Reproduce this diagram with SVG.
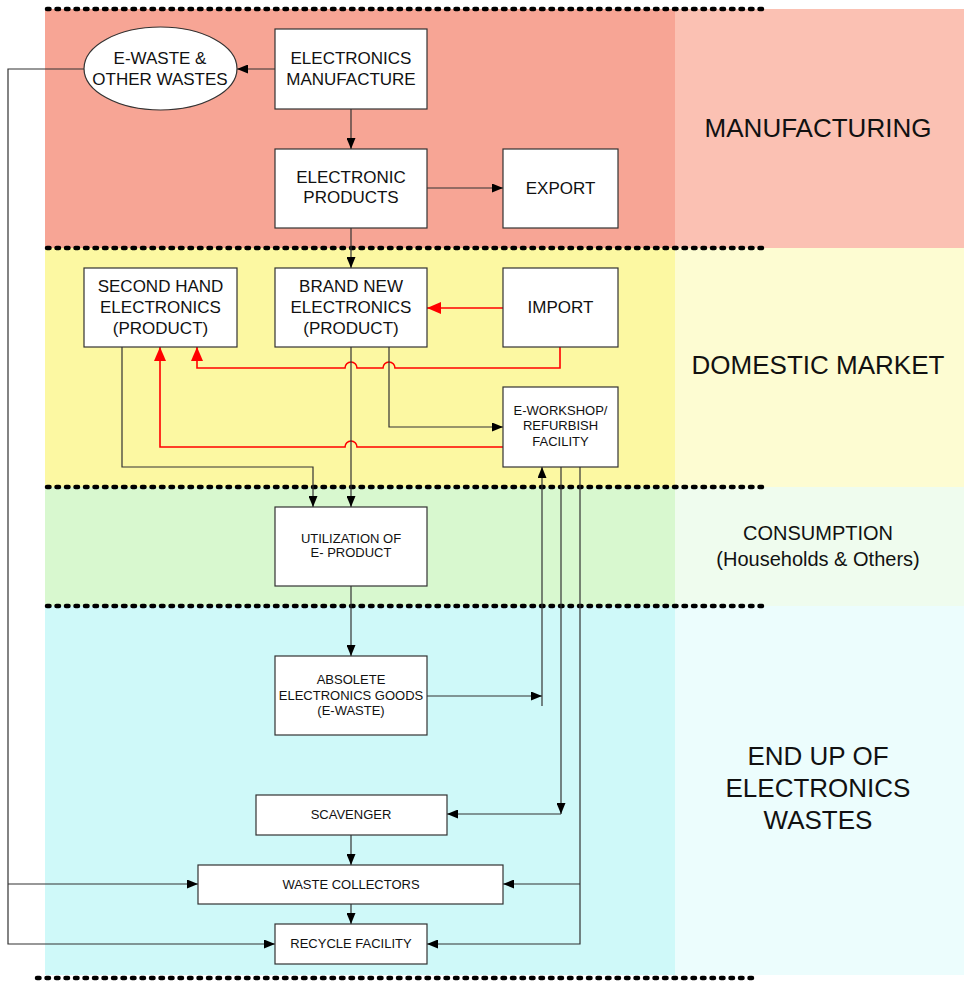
<svg xmlns="http://www.w3.org/2000/svg" width="964" height="983" viewBox="0 0 964 983">
<style>
text{font-family:"Liberation Sans",Arial,sans-serif;fill:#111;text-anchor:middle}
.box{fill:#fff;stroke:#333;stroke-width:1.2}
.t17{font-size:17px}
.t13{font-size:13px}
.lab{font-size:26px}
.lab2{font-size:20px}
.c{fill:none;stroke:#333;stroke-width:1.2}
.r{fill:none;stroke:#f00;stroke-width:1.6}
.dot{stroke:#000;stroke-width:4.5;stroke-linecap:round;stroke-dasharray:2.5 7}
</style>
<defs>
<marker id="a" markerWidth="11" markerHeight="9" refX="11" refY="4.5" orient="auto" markerUnits="userSpaceOnUse"><path d="M0,0 L11,4.5 L0,9z" fill="#000"/></marker>
<marker id="ar" markerWidth="14" markerHeight="12" refX="14" refY="6" orient="auto" markerUnits="userSpaceOnUse"><path d="M0,0 L14,6 L0,12z" fill="#f00"/></marker>
</defs>
<g id="bands">
<rect x="45" y="9" width="630" height="239" fill="#f7a595"/>
<rect x="675" y="9" width="289" height="239" fill="#fbc1b3"/>
<rect x="45" y="248" width="630" height="239" fill="#fcf8a2"/>
<rect x="675" y="248" width="289" height="239" fill="#fdfcd2"/>
<rect x="45" y="487" width="630" height="119" fill="#d8f8cf"/>
<rect x="675" y="487" width="289" height="119" fill="#effcee"/>
<rect x="45" y="606" width="630" height="369" fill="#cff9f9"/>
<rect x="675" y="606" width="289" height="369" fill="#ecfdfd"/>
<line class="dot" x1="47" y1="9" x2="766" y2="9"/>
<line class="dot" x1="47" y1="248" x2="766" y2="248"/>
<line class="dot" x1="47" y1="487" x2="766" y2="487"/>
<line class="dot" x1="47" y1="606" x2="766" y2="606"/>
<line class="dot" x1="37" y1="978" x2="756" y2="978"/>
<text class="lab" x="818" y="137">MANUFACTURING</text>
<text class="lab" x="818" y="374">DOMESTIC MARKET</text>
<text class="lab2" x="818" y="540">CONSUMPTION</text>
<text class="lab2" x="818" y="566">(Households &amp; Others)</text>
<text class="lab" x="818" y="765">END UP OF</text>
<text class="lab" x="818" y="797">ELECTRONICS</text>
<text class="lab" x="818" y="829">WASTES</text>
</g>
<g id="connectors">
<line class="c" x1="275" y1="69" x2="237" y2="69" marker-end="url(#a)"/>
<polyline class="c" points="84,69 8,69 8,944 275,944" marker-end="url(#a)"/>
<line class="c" x1="8" y1="884" x2="198" y2="884" marker-end="url(#a)"/>
<line class="c" x1="351" y1="109" x2="351" y2="149" marker-end="url(#a)"/>
<line class="c" x1="427" y1="188" x2="503" y2="188" marker-end="url(#a)"/>
<line class="c" x1="351" y1="228" x2="351" y2="268" marker-end="url(#a)"/>
<line class="r" x1="503" y1="308" x2="427" y2="308" marker-end="url(#ar)"/>
<path class="r" d="M560,347 V368 H395 A6,6 0 0 0 383,368 H357 A6,6 0 0 0 345,368 H197 V347" marker-end="url(#ar)"/>
<path class="r" d="M503,447 H357 A6,6 0 0 0 345,447 H160 V347" marker-end="url(#ar)"/>
<polyline class="c" points="389,347 389,427 503,427" marker-end="url(#a)"/>
<line class="c" x1="351" y1="347" x2="351" y2="507" marker-end="url(#a)"/>
<polyline class="c" points="122,347 122,467 313,467 313,507" marker-end="url(#a)"/>
<line class="c" x1="351" y1="586" x2="351" y2="656" marker-end="url(#a)"/>
<line class="c" x1="427" y1="696" x2="542" y2="696" marker-end="url(#a)"/>
<line class="c" x1="542" y1="706" x2="542" y2="467" marker-end="url(#a)"/>
<line class="c" x1="561" y1="467" x2="561" y2="814" marker-end="url(#a)"/>
<line class="c" x1="561" y1="814" x2="447" y2="814" marker-end="url(#a)"/>
<polyline class="c" points="580,467 580,944 427,944" marker-end="url(#a)"/>
<line class="c" x1="580" y1="884" x2="503" y2="884" marker-end="url(#a)"/>
<line class="c" x1="351" y1="835" x2="351" y2="865" marker-end="url(#a)"/>
<line class="c" x1="351" y1="904" x2="351" y2="924" marker-end="url(#a)"/>
</g>
<g id="n-ewaste"><ellipse class="box" cx="160.5" cy="68.5" rx="76.5" ry="41.5"/><text class="t17" x="160" y="64">E-WASTE &amp;</text><text class="t17" x="160" y="85">OTHER WASTES</text></g>
<g id="n-manufacture"><rect class="box" x="275" y="29" width="152" height="80"/><text class="t17" x="351" y="64">ELECTRONICS</text><text class="t17" x="351" y="85">MANUFACTURE</text></g>
<g id="n-products"><rect class="box" x="275" y="149" width="152" height="79"/><text class="t17" x="351" y="183">ELECTRONIC</text><text class="t17" x="351" y="203">PRODUCTS</text></g>
<g id="n-export"><rect class="box" x="503" y="149" width="115" height="79"/><text class="t17" x="560.5" y="194">EXPORT</text></g>
<g id="n-secondhand"><rect class="box" x="84" y="268" width="153" height="79"/><text class="t17" x="160.5" y="292">SECOND HAND</text><text class="t17" x="160.5" y="313">ELECTRONICS</text><text class="t17" x="160.5" y="334">(PRODUCT)</text></g>
<g id="n-brandnew"><rect class="box" x="275" y="268" width="152" height="79"/><text class="t17" x="351" y="292">BRAND NEW</text><text class="t17" x="351" y="313">ELECTRONICS</text><text class="t17" x="351" y="334">(PRODUCT)</text></g>
<g id="n-import"><rect class="box" x="503" y="268" width="115" height="79"/><text class="t17" x="560.5" y="313">IMPORT</text></g>
<g id="n-workshop"><rect class="box" x="503" y="387" width="115" height="80"/><text class="t13" x="560.5" y="415">E-WORKSHOP/</text><text class="t13" x="560.5" y="430">REFURBISH</text><text class="t13" x="560.5" y="446">FACILITY</text></g>
<g id="n-utilization"><rect class="box" x="275" y="507" width="152" height="79"/><text class="t13" x="351" y="543">UTILIZATION OF</text><text class="t13" x="351" y="557">E- PRODUCT</text></g>
<g id="n-absolete"><rect class="box" x="275" y="656" width="152" height="79"/><text class="t13" x="351" y="684">ABSOLETE</text><text class="t13" x="351" y="700">ELECTRONICS GOODS</text><text class="t13" x="351" y="715">(E-WASTE)</text></g>
<g id="n-scavenger"><rect class="box" x="256" y="795" width="191" height="40"/><text class="t13" x="351" y="819">SCAVENGER</text></g>
<g id="n-collectors"><rect class="box" x="198" y="865" width="305" height="39"/><text class="t13" x="351" y="889">WASTE COLLECTORS</text></g>
<g id="n-recycle"><rect class="box" x="275" y="924" width="152" height="40"/><text class="t13" x="351" y="948">RECYCLE FACILITY</text></g>
</svg>
